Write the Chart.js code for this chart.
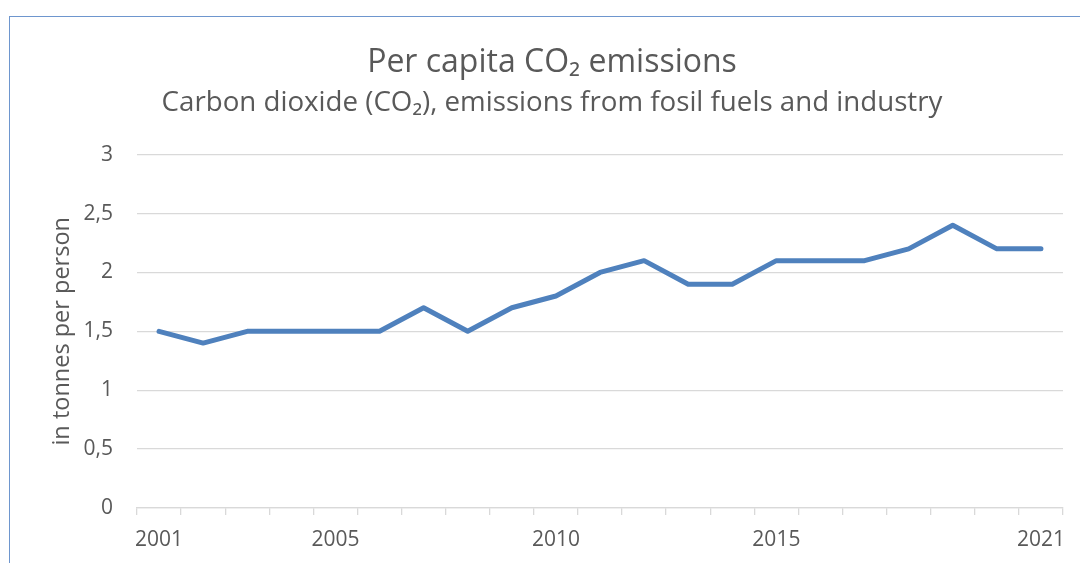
<!DOCTYPE html>
<html>
<head>
<meta charset="utf-8">
<script src="https://cdn.jsdelivr.net/npm/chart.js@4"></script>
<style>
  html, body { margin: 0; padding: 0; background: #ffffff; overflow: hidden; }
  #frame { position: absolute; left: 9px; top: 16px; width: 2000px; height: 2000px;
           border: 1.5px solid #6E96CE; box-sizing: border-box; }
  #wrap { position: absolute; left: 0; top: 0; width: 1080px; height: 563px; }
</style>
</head>
<body>
<div id="frame"></div>
<div id="wrap"><canvas id="c" width="1080" height="563"></canvas></div>
<script>
const years = ['2001','2002','2003','2004','2005','2006','2007','2008','2009','2010','2011',
               '2012','2013','2014','2015','2016','2017','2018','2019','2020','2021'];
const co2PerCapita = [1.5,1.4,1.5,1.5,1.5,1.5,1.7,1.5,1.7,1.8,2.0,
                      2.1,1.9,1.9,2.1,2.1,2.1,2.2,2.4,2.2,2.2];
const shownYearLabels = ['2001','2005','2010','2015','2021'];
const yTickValues = [0, 0.5, 1, 1.5, 2, 2.5, 3];

const FONT = "'Open Sans', 'Noto Sans', sans-serif";
const TXT = '#595959';
const GRID = '#D9D9D9';

new Chart(document.getElementById('c'), {
  type: 'line',
  data: {
    labels: years,
    datasets: [{
      label: 'Per capita CO₂ emissions',
      data: co2PerCapita,
      borderColor: '#4F81BD',
      backgroundColor: '#4F81BD',
      borderWidth: 5,
      borderCapStyle: 'round',
      borderJoinStyle: 'round',
      pointRadius: 0,
      tension: 0,
      fill: false
    }]
  },
  options: {
    responsive: false,
    animation: false,
    layout: { padding: { top: 44, right: 17, bottom: 0, left: 41 } },
    plugins: {
      legend: { display: false },
      tooltip: { enabled: false },
      title: {
        display: true,
        text: 'Per capita CO₂ emissions',
        color: TXT,
        font: { family: FONT, size: 32, weight: 'normal' },
        padding: { top: 0, bottom: 4 }
      },
      subtitle: {
        display: true,
        text: 'Carbon dioxide (CO₂), emissions from fosil fuels and industry',
        color: TXT,
        font: { family: FONT, size: 27.7, weight: 'normal' },
        padding: { top: 0, bottom: 35 }
      }
    },
    scales: {
      x: {
        type: 'category',
        offset: true,
        afterFit: (s) => { s.height = 55; },
        grid: { display: true, drawOnChartArea: false, offset: true, color: GRID,
                lineWidth: 1.3, tickLength: 7, drawTicks: true },
        border: { display: true, color: GRID, width: 1.3 },
        ticks: {
          autoSkip: false, maxRotation: 0, color: TXT, padding: 12,
          font: { family: FONT, size: 21 },
          callback: function (v, i) {
            const lab = this.getLabelForValue(v);
            return shownYearLabels.includes(lab) ? lab : '';
          }
        }
      },
      y: {
        min: 0, max: 3,
        afterFit: (s) => { s.width = 96; },
        afterBuildTicks: (s) => { s.ticks = yTickValues.map(v => ({ value: v })); },
        grid: { color: GRID, lineWidth: 1.3, drawTicks: false },
        border: { display: false },
        ticks: {
          color: TXT, padding: 24,
          font: { family: FONT, size: 21 },
          callback: (v) => String(v).replace('.', ',')
        },
        title: {
          display: true,
          text: 'in tonnes per person',
          color: TXT,
          font: { family: FONT, size: 23.5 },
          padding: { top: 7, bottom: 0 }
        }
      }
    }
  }
});
</script>
</body>
</html>
